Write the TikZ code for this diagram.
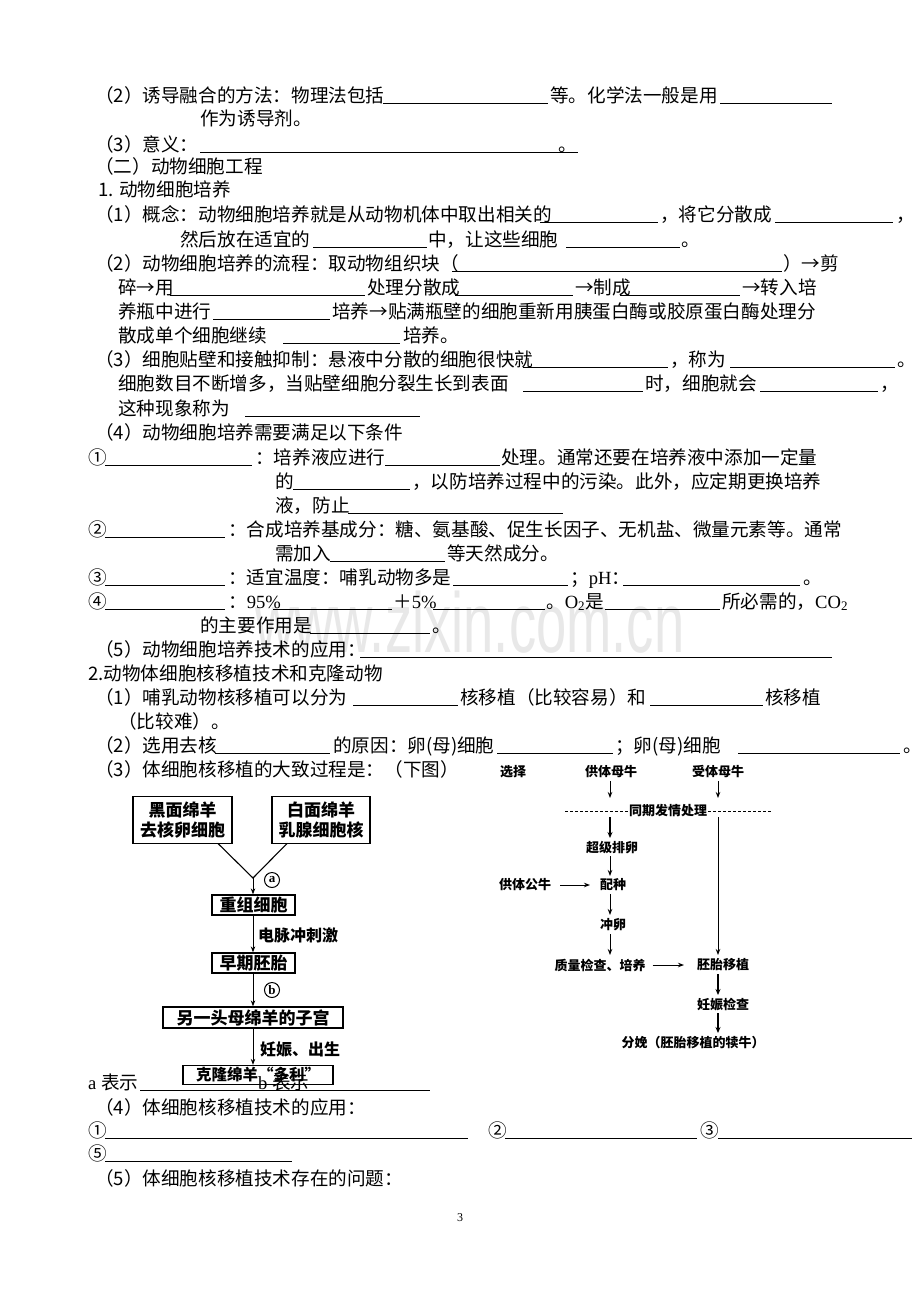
\documentclass[tikz,border=0pt]{standalone}
\usepackage{fontspec}
\setmainfont{Noto Sans CJK SC}
\newfontfamily\lat{Liberation Serif}
\newfontfamily\latsans{Liberation Sans}
\usetikzlibrary{arrows.meta,calc}
\newcommand\fs{\fontsize{18.6}{20}\selectfont}
\newcommand\Tx[3]{\node[txt] at (#1,#2) {#3};}
\newcommand\Ul[3]{\draw[ul] (#1,#3) -- (#2,#3);}
\tikzset{
  txt/.style={anchor=base west, inner sep=0pt, font=\fs},
  ul/.style={line width=0.9pt},
  fbox/.style={draw, line width=1.3pt, fill=white, inner sep=0pt, align=center,
    font=\fontsize{17}{20}\selectfont\bfseries},
  cw/.style={inner sep=1pt, font=\fontsize{13}{15}\selectfont\bfseries},
  arr/.style={-{Stealth[length=6pt,width=4.5pt]}, line width=1pt},
  arrb/.style={-{Stealth[length=6pt,width=5pt]}, line width=1.8pt},
  circ/.style={draw, circle, line width=1pt, inner sep=0pt, minimum size=15pt,
    font=\fontsize{13}{13}\selectfont\lat\bfseries},
  lbl/.style={anchor=west, inner sep=0pt, font=\fontsize{16}{18}\selectfont\bfseries}
}
\begin{document}
\begin{tikzpicture}[x=1pt,y=-1pt]
\useasboundingbox (0,0) rectangle (920,1302);
\fill[white] (0,0) rectangle (920,1302);
% watermark
\begin{scope}[shift={(255,652)}]
\node[anchor=base west, inner sep=0pt, text=black!9, xscale=0.64,
  font=\fontsize{85}{85}\selectfont\latsans] (wm) at (0,0) {www.zixin.com.cn};
\end{scope}
% line 1
\Tx{95}{102}{（2）诱导融合的方法：物理法包括}
\Ul{383}{548}{103}
\Tx{550}{102}{等。化学法一般是用}
\Ul{720}{832}{103}
\Tx{200}{125}{作为诱导剂。}
\Tx{95}{151}{（3）意义：}
\Ul{200}{578}{152}
\Tx{558}{151}{。}
\Tx{95}{173}{（二）动物细胞工程}
\Tx{98}{196}{1. 动物细胞培养}
% (1)
\Tx{95}{221}{（1）概念：动物细胞培养就是从动物机体中取出相关的}
\Ul{540}{658}{222}
\Tx{660}{221}{，将它分散成}
\Ul{775}{893}{222}
\Tx{896}{221}{，}
\Tx{180}{246}{然后放在适宜的}
\Ul{313}{427}{247}
\Tx{428}{246}{中，让这些细胞}
\Ul{566}{680}{247}
\Tx{681}{246}{。}
% (2)
\Tx{95}{270}{（2）动物细胞培养的流程：取动物组织块（}
\Ul{452}{782}{271}
\Tx{783}{270}{）→剪}
\Tx{118}{294}{碎→用}
\Ul{170}{365}{295}
\Tx{367}{294}{处理分散成}
\Ul{455}{573}{295}
\Tx{575}{294}{→制成}
\Ul{620}{740}{295}
\Tx{742}{294}{→转入培}
\Tx{118}{318}{养瓶中进行}
\Ul{213}{330}{319}
\Tx{332}{318}{培养→贴满瓶壁的细胞重新用胰蛋白酶或胶原蛋白酶处理分}
\Tx{118}{342}{散成单个细胞继续}
\Ul{283}{400}{343}
\Tx{403}{342}{培养。}
% (3)
\Tx{95}{366}{（3）细胞贴壁和接触抑制：悬液中分散的细胞很快就}
\Ul{523}{668}{367}
\Tx{670}{366}{，称为}
\Ul{730}{895}{367}
\Tx{897}{366}{。}
\Tx{118}{390}{细胞数目不断增多，当贴壁细胞分裂生长到表面}
\Ul{523}{643}{391}
\Tx{645}{390}{时，细胞就会}
\Ul{760}{878}{391}
\Tx{880}{390}{，}
\Tx{118}{415}{这种现象称为}
\Ul{245}{420}{416}
% (4)
\Tx{95}{439}{（4）动物细胞培养需要满足以下条件}
\Tx{88}{464}{①}
\Ul{105}{252}{465}
\Tx{255}{464}{：培养液应进行}
\Ul{385}{500}{465}
\Tx{501}{464}{处理。通常还要在培养液中添加一定量}
\Tx{275}{488}{的}
\Ul{293}{410}{489}
\Tx{412}{488}{，以防培养过程中的污染。此外，应定期更换培养}
\Tx{275}{512}{液，防止}
\Ul{348}{563}{513}
\Tx{88}{536}{②}
\Ul{105}{225}{537}
\Tx{228}{536}{：合成培养基成分：糖、氨基酸、促生长因子、无机盐、微量元素等。通常}
\Tx{275}{560}{需加入}
\Ul{330}{445}{561}
\Tx{447}{560}{等天然成分。}
\Tx{88}{584}{③}
\Ul{105}{225}{585}
\Tx{228}{584}{：适宜温度：哺乳动物多是}
\Ul{453}{568}{585}
\Tx{570}{584}{；{\lat pH}：}
\Ul{623}{800}{585}
\Tx{803}{584}{。}
\Tx{88}{608}{④}
\Ul{105}{225}{609}
\Tx{228}{608}{：{\lat 95\%}}
\Ul{273}{392}{609}
\Tx{393}{608}{＋{\lat 5\%}}
\Ul{433}{545}{609}
\Tx{546}{608}{。{\lat O\textsubscript{2}}是}
\Ul{605}{720}{609}
\Tx{722}{608}{所必需的，{\lat CO\textsubscript{2}}}
\Tx{200}{632}{的主要作用是}
\Ul{310}{430}{633}
\Tx{432}{632}{。}
\Tx{95}{656}{（5）动物细胞培养技术的应用：}
\Ul{360}{832}{657}
% 2.
\Tx{88}{680}{2.动物体细胞核移植技术和克隆动物}
\Tx{95}{704}{（1）哺乳动物核移植可以分为}
\Ul{353}{458}{705}
\Tx{460}{704}{核移植（比较容易）和}
\Ul{650}{763}{705}
\Tx{765}{704}{核移植}
\Tx{118}{728}{（比较难）。}
\Tx{95}{752}{（2）选用去核}
\Ul{215}{330}{753}
\Tx{333}{752}{的原因：卵(母)细胞}
\Ul{497}{613}{753}
\Tx{615}{752}{；卵(母)细胞}
\Ul{738}{900}{753}
\Tx{903}{752}{。}
\Tx{95}{776}{（3）体细胞核移植的大致过程是：（下图）}
% left flowchart
\node[fbox, minimum width=99pt, minimum height=47pt] (b1) at (182.5,820) {黑面绵羊\\去核卵细胞};
\node[fbox, minimum width=98pt, minimum height=47pt] (b2) at (321,820) {白面绵羊\\乳腺细胞核};
\node[fbox, minimum width=83pt, minimum height=20pt] (b3) at (253.5,905) {重组细胞};
\node[fbox, minimum width=83pt, minimum height=20pt] (b4) at (253.5,963) {早期胚胎};
\node[fbox, minimum width=180pt, minimum height=21pt] (b5) at (253,1017.5) {另一头母绵羊的子宫};
\node[fbox, minimum width=150pt, minimum height=19pt, font=\fontsize{15.5}{18}\selectfont\bfseries] (b6) at (258,1075) {克隆绵羊“多利”};
\coordinate (p1) at (218,843.5);
\coordinate (p2) at (287,843.5);
\coordinate (jn) at (253,878);
\draw[line width=1.1pt] (p1) -- (jn) -- (p2);
\draw[arr] (jn) -- (b3.north -| jn);
\node[circ] (ca) at (272,880) {a};
\draw[arr] (b3.south -| jn) -- (b4.north -| jn);
\node[lbl] (l1) at (258,935) {电脉冲刺激};
\draw[arr] (b4.south -| jn) -- (b5.north -| jn);
\node[circ] (cb) at (272,990) {b};
\draw[arr] (b5.south -| jn) -- (b6.north -| jn);
\node[lbl] (l2) at (260,1050) {妊娠、出生};
% a/b line
\Tx{88}{1089}{{\lat a }表示}
\Ul{140}{430}{1090}
\Tx{258}{1089}{{\lat b }表示}
% (4) (5)
\Tx{95}{1114}{（4）体细胞核移植技术的应用：}
\Tx{88}{1137}{①}
\Ul{105}{468}{1138}
\Tx{488}{1137}{②}
\Ul{505}{697}{1138}
\Tx{700}{1137}{③}
\Ul{718}{912}{1138}
\Tx{88}{1160}{⑤}
\Ul{105}{292}{1161}
\Tx{95}{1185}{（5）体细胞核移植技术存在的问题：}
% right flowchart
\node[cw] (sel) at (513,772) {选择};
\node[cw] (dm) at (611,772) {供体母牛};
\node[cw] (rm) at (718,772) {受体母牛};
\node[cw] (tq) at (668,811) {同期发情处理};
\draw[line width=0.9pt, dash pattern=on 3pt off 2pt] (565,811) -- (tq.west);
\draw[line width=0.9pt, dash pattern=on 3pt off 2pt] (tq.east) -- (772,811);
\node[cw] (cj) at (612,848) {超级排卵};
\node[cw] (pz) at (613,885) {配种};
\node[cw] (gn) at (525,885) {供体公牛};
\node[cw] (cl) at (613,925) {冲卵};
\node[cw] (zl) at (600,965) {质量检查、培养};
\node[cw] (pt) at (723,965) {胚胎移植};
\node[cw] (rs) at (723,1005) {妊娠检查};
\node[cw] (fm) at (693,1043) {分娩（胚胎移植的犊牛）};
\coordinate (d1) at (610,798);
\coordinate (r1) at (718,798);
\coordinate (d2) at (610,817);
\coordinate (r2) at (718,817);
\draw[arr] (610,781) -- (d1);
\draw[arr] (718,781) -- (r1);
\draw[arrb] (d2) -- (610,838);
\draw[arr] (610,856) -- (610,876);
\draw[arr] (gn.east) ++(8,0) -- (590,885);
\draw[arr] (610,894) -- (610,915);
\draw[arr] (610,934) -- (610,955);
\draw[arr] (zl.east) ++(6,0) -- (684,965);
\draw[arr] (r2) -- (718,955);
\draw[arrb] (718,974) -- (718,995);
\draw[arrb] (718,1013) -- (718,1033);
% page number
\node[inner sep=0pt, font=\fontsize{12}{12}\selectfont\lat] (pg) at (460,1218) {3};
\end{tikzpicture}
\end{document}
